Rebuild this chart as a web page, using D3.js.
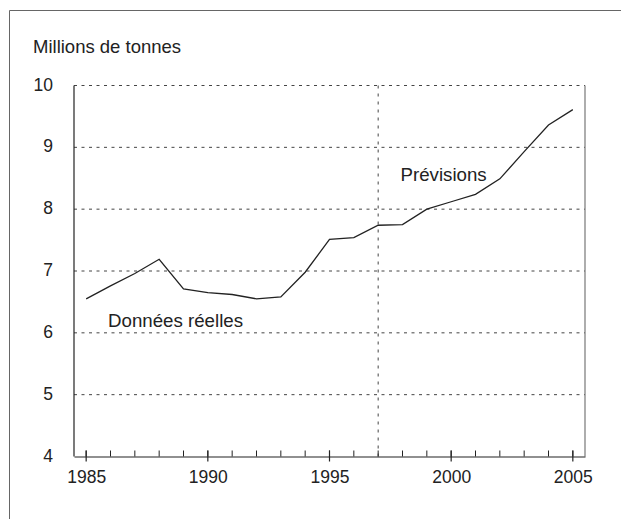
<!DOCTYPE html>
<html><head><meta charset="utf-8">
<script src="https://cdn.jsdelivr.net/npm/d3@7"></script>
<style>body{margin:0;background:#fff}svg{display:block}text{font-family:"Liberation Sans",Arial,sans-serif;fill:#222}</style>
</head><body><svg id="c" width="621" height="519"></svg>
<script>
const years = [1985,1986,1987,1988,1989,1990,1991,1992,1993,1994,1995,1996,1997,1998,1999,2000,2001,2002,2003,2004,2005];
const values = [6.55,6.76,6.96,7.19,6.71,6.65,6.62,6.55,6.58,6.98,7.51,7.54,7.74,7.75,8.0,8.12,8.24,8.49,8.93,9.36,9.61];
const yTicks = [4,5,6,7,8,9,10];
const xMajor = [1985,1990,1995,2000,2005];
const splitYear = 1997;
const unitLabel = "Millions de tonnes";
const labelActual = "Données réelles";
const labelForecast = "Prévisions";

const svg = d3.select("#c");
const L=74,R=585,T=85.5,B=456.5;
const x = d3.scaleLinear().domain([1984.5,2005.5]).range([L,R]);
const y = d3.scaleLinear().domain([4,10]).range([B,T]);

// outer frame
svg.append("path").attr("d","M9.5,530V10.5H640").attr("fill","none").attr("stroke","#666").attr("stroke-width",1);

svg.append("text").attr("x",33).attr("y",53).attr("font-size",18.5).text(unitLabel);

// grid
const g = svg.append("g");
g.selectAll("line.grid").data(yTicks.filter(d=>d>4)).enter().append("line")
 .attr("x1",L).attr("x2",R).attr("y1",d=>y(d)).attr("y2",d=>y(d))
 .attr("stroke","#444").attr("stroke-width",1).attr("stroke-dasharray","3,4.5");
g.append("line").attr("x1",x(splitYear)).attr("x2",x(splitYear)).attr("y1",T).attr("y2",B)
 .attr("stroke","#444").attr("stroke-width",1).attr("stroke-dasharray","3,5");

// axes lines
svg.append("line").attr("x1",L).attr("x2",L).attr("y1",T).attr("y2",B).attr("stroke","#222").attr("stroke-width",1.2);
svg.append("line").attr("x1",R).attr("x2",R).attr("y1",T).attr("y2",B).attr("stroke","#777").attr("stroke-width",1.2);

// y labels
svg.selectAll("text.yl").data(yTicks).enter().append("text")
 .attr("x",53).attr("y",d=>y(d)+5).attr("text-anchor","end").attr("font-size",17.5).text(d=>d);

// x axis
const xa = svg.append("g").attr("transform",`translate(0,${B})`);
xa.call(d3.axisBottom(x).tickValues(xMajor).tickSize(0).tickFormat(d3.format("d")).tickPadding(0));
xa.select(".domain").attr("stroke","#222").attr("stroke-width",1.2);
xa.selectAll(".tick text").attr("dy",null).attr("y",26).attr("font-size",17.5)
 .attr("font-family",'"Liberation Sans",Arial,sans-serif').attr("fill","#222");
xa.selectAll("line.minor").data(years).enter().append("line").attr("class","minor")
 .attr("x1",d=>x(d)).attr("x2",d=>x(d)).attr("y1",-6).attr("y2",0).attr("stroke","#222").attr("stroke-width",1);
xa.selectAll("line.major").data(xMajor).enter().append("line").attr("class","major")
 .attr("x1",d=>x(d)).attr("x2",d=>x(d)).attr("y1",-6).attr("y2",5).attr("stroke","#222").attr("stroke-width",1.2);

// line
const data = years.map((d,i)=>({year:d,v:values[i]}));
svg.append("path").datum(data).attr("fill","none").attr("stroke","#222").attr("stroke-width",1.3)
 .attr("d",d3.line().x(d=>x(d.year)).y(d=>y(d.v)));

svg.append("text").attr("x",108).attr("y",327).attr("font-size",18.7).text(labelActual);
svg.append("text").attr("x",400.5).attr("y",180.5).attr("font-size",18.7).text(labelForecast);
</script></body></html>
